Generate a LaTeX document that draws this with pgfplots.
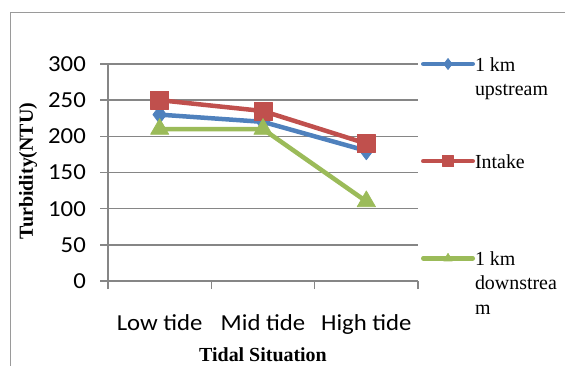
\documentclass[border=0pt]{standalone}
\usepackage{pgfplots}
\pgfplotsset{compat=1.18}
\usepackage{fontspec}
\setmainfont{Carlito}[FakeStretch=1.08]
\newfontfamily\tnr{Liberation Serif}

\definecolor{upblue}{HTML}{4F81BD}
\definecolor{intred}{HTML}{C0504D}
\definecolor{dngreen}{HTML}{9BBB59}
\definecolor{gridgray}{HTML}{868686}
\definecolor{framegray}{HTML}{9A9A9A}

\begin{document}
\begin{tikzpicture}[x=1bp,y=1bp]
\useasboundingbox (0,0) rectangle (565,365);
% chart area border (only its left and top edges fall inside the page)
\begin{scope}
  \clip (0,0) rectangle (565,365);
  \draw[framegray, line width=1.5bp] (10.5,-20) |- (600,352.3);
\end{scope}
\begin{axis}[
  at={(108bp,84bp)}, anchor=south west,
  scale only axis, width=310bp, height=217bp,
  clip=false,
  xmin=-0.5, xmax=2.5, ymin=0, ymax=300,
  ytick={0,50,...,300},
  xtick={0,1,2}, xticklabels={Low tide, Mid tide, High tide},
  minor xtick={-0.5,0.5,1.5,2.5},
  axis x line*=bottom, axis y line*=left,
  axis line style={gridgray, line width=1.5bp, -},
  tick align=outside,
  major tick length=8bp, minor tick length=8bp,
  every tick/.style={gridgray, line width=1.5bp},
  major x tick style={draw=none},
  ymajorgrids, grid style={gridgray, line width=1.5bp},
  /pgf/number format/assume math mode=true,
  ticklabel style={font=\fontsize{23}{27}\selectfont, inner sep=0pt},
  yticklabel style={anchor=east, xshift=-14bp},
  xticklabel style={anchor=north, yshift=-25bp},
  xlabel={Tidal Situation},
  xlabel style={font=\tnr\bfseries\fontsize{20}{24}\selectfont,
    at={(axis description cs:0.5,-0.371)}, anchor=base, inner sep=0pt},
  ylabel={Turbidity(NTU)},
  ylabel style={font=\tnr\bfseries\fontsize{20}{24}\selectfont,
    at={(axis description cs:-0.258,0.507)}, anchor=center, inner sep=0pt},
  legend cell align=left,
  legend style={draw=none, fill=none,
    at={(axis description cs:1.0097,1.056)}, anchor=north west,
    inner sep=0pt, outer sep=0pt, row sep=0pt, column sep=0pt,
    font=\tnr\fontsize{20}{24}\selectfont,
    nodes={inner sep=0pt, text height=19.15bp, text depth=5.15bp},
    /tikz/every even column/.append style={column sep=4bp}},
  legend image code/.code={%
    \draw[mark repeat=2, mark phase=2, #1]
      plot coordinates {(0bp,0bp) (24.75bp,0bp) (49.5bp,0bp)};},
  every axis plot/.append style={line width=4.5bp, line cap=round, line join=round},
]
% 1 km upstream
\addplot[upblue, mark=diamond*, mark size=9bp,
  mark options={solid, fill=upblue, line width=0.75bp},
  legend image post style={mark size=5.5bp}]
  coordinates {(0,230) (1,220) (2,180)};
\addlegendentry{1 km}
\addlegendimage{empty legend}\addlegendentry{upstream}
\addlegendimage{empty legend}\addlegendentry{\mbox{}}
\addlegendimage{empty legend}\addlegendentry{\mbox{}}
% Intake
\addplot[intred, mark=square*, mark size=9bp,
  mark options={solid, fill=intred, line width=0.75bp},
  legend image post style={mark size=5.5bp}]
  coordinates {(0,250) (1,235) (2,190)};
\addlegendentry{Intake}
\addlegendimage{empty legend}\addlegendentry{\mbox{}}
\addlegendimage{empty legend}\addlegendentry{\mbox{}}
\addlegendimage{empty legend}\addlegendentry{\mbox{}}
% 1 km downstream
\addplot[dngreen, mark=triangle*, mark size=10.5bp,
  mark options={solid, fill=dngreen, line width=0.75bp},
  legend image post style={mark size=5bp}]
  coordinates {(0,210) (1,210) (2,110)};
\addlegendentry{1 km}
\addlegendimage{empty legend}\addlegendentry{downstrea}
\addlegendimage{empty legend}\addlegendentry{m}
\end{axis}
\end{tikzpicture}
\end{document}
